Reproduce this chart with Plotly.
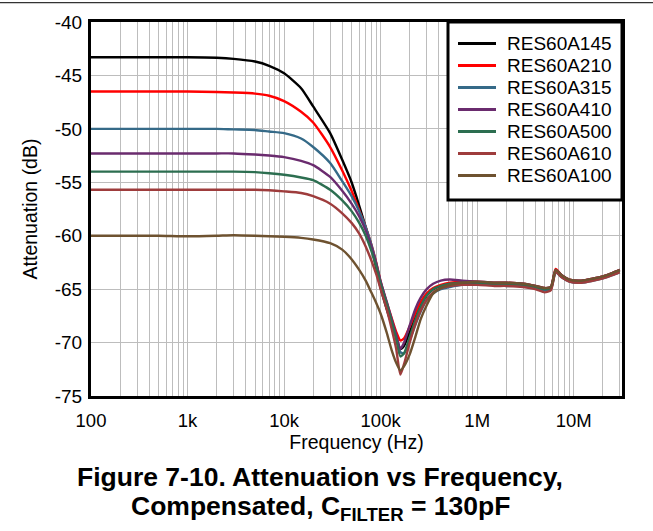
import plotly.graph_objects as go

freq_hz = [100, 200, 500, 1000, 2000, 3000, 5000, 7000, 10000, 15000, 20000, 30000,
           40000, 50000, 60000, 70000, 80000, 90000, 100000, 115000, 130000, 145000,
           160000, 175000, 200000, 230000, 260000, 300000, 350000, 420000, 520000,
           700000, 1000000, 1500000, 2000000, 3000000, 4000000, 5000000, 5800000,
           6500000, 7500000, 9000000, 12000000, 16000000, 20000000, 25000000, 30000000]

res60a145 = [-43.3, -43.3, -43.3, -43.3, -43.35, -43.45, -43.7, -44.1, -44.8, -46.2, -47.9, -50.4,
             -52.9, -55.0, -57.2, -59.2, -61.0, -63.0, -64.9, -66.8, -68.3, -69.5,
             -70.6, -70.3, -69.0, -67.6, -66.5, -65.6, -65.0, -64.7, -64.5,
             -64.4, -64.4, -64.5, -64.5, -64.6, -64.8, -65.0, -64.9,
             -63.3, -63.8, -64.2, -64.3, -64.1, -63.9, -63.6, -63.3]
res60a210 = [-46.5, -46.5, -46.5, -46.5, -46.55, -46.6, -46.7, -46.9, -47.4, -48.4, -49.4, -51.7,
             -53.9, -55.8, -57.6, -59.2, -60.8, -62.5, -64.3, -66.2, -67.7, -69.0,
             -69.8, -69.6, -68.5, -67.2, -66.2, -65.4, -64.9, -64.6, -64.4,
             -64.3, -64.3, -64.4, -64.4, -64.5, -64.7, -64.9, -64.8,
             -63.1, -63.7, -64.1, -64.2, -64.0, -63.8, -63.5, -63.2]
res60a315 = [-50.0, -50.0, -50.0, -50.0, -50.0, -50.05, -50.1, -50.25, -50.4, -50.9, -51.7, -53.2,
             -54.9, -56.3, -57.7, -59.2, -60.8, -62.6, -64.4, -66.3, -68.0, -69.5,
             -70.9, -71.0, -69.8, -68.3, -67.1, -66.0, -65.4, -65.0, -64.8,
             -64.6, -64.6, -64.6, -64.7, -64.7, -64.9, -65.1, -65.0,
             -63.4, -63.9, -64.3, -64.4, -64.2, -64.0, -63.7, -63.4]
res60a410 = [-52.3, -52.3, -52.3, -52.3, -52.3, -52.3, -52.4, -52.5, -52.65, -53.0, -53.4, -54.5,
             -55.8, -57.0, -58.2, -59.5, -61.0, -62.6, -64.3, -66.1, -67.8, -69.3,
             -70.6, -70.0, -68.4, -66.8, -65.8, -65.0, -64.5, -64.2, -64.1,
             -64.2, -64.3, -64.4, -64.4, -64.5, -64.7, -64.9, -64.8,
             -63.2, -63.7, -64.1, -64.2, -64.0, -63.8, -63.5, -63.2]
res60a500 = [-54.0, -54.0, -54.0, -54.0, -54.0, -54.0, -54.05, -54.15, -54.3, -54.55, -54.8, -55.7,
             -56.7, -57.7, -58.8, -60.0, -61.4, -62.9, -64.5, -66.3, -68.0, -69.7,
             -71.3, -71.0, -69.5, -67.8, -66.6, -65.6, -65.0, -64.7, -64.5,
             -64.4, -64.4, -64.5, -64.5, -64.6, -64.8, -65.0, -64.9,
             -63.3, -63.8, -64.2, -64.3, -64.1, -63.9, -63.6, -63.3]
res60a610 = [-55.7, -55.7, -55.7, -55.7, -55.7, -55.7, -55.7, -55.75, -55.85, -56.0, -56.3, -57.0,
             -57.9, -58.8, -59.8, -61.0, -62.3, -63.6, -65.0, -66.8, -68.7, -70.6,
             -73.0, -72.0, -70.0, -68.2, -67.0, -66.0, -65.3, -64.9, -64.7,
             -64.6, -64.6, -64.7, -64.7, -64.8, -65.0, -65.3, -65.1,
             -63.4, -63.9, -64.3, -64.4, -64.2, -64.0, -63.7, -63.4]
res60a100 = [-60.0, -60.0, -60.0, -60.05, -60.0, -59.95, -60.0, -60.05, -60.1, -60.2, -60.35, -60.7,
             -61.3, -62.2, -63.2, -64.2, -65.3, -66.3, -67.3, -69.0, -70.7, -71.9,
             -72.6, -72.2, -71.1, -69.4, -67.8, -66.5, -65.4, -64.9, -64.6,
             -64.4, -64.3, -64.4, -64.4, -64.5, -64.7, -64.9, -64.8,
             -63.2, -63.7, -64.1, -64.2, -64.0, -63.8, -63.5, -63.2]

series_names = ["RES60A145", "RES60A210", "RES60A315", "RES60A410",
                "RES60A500", "RES60A610", "RES60A100"]
series_values = [res60a145, res60a210, res60a315, res60a410, res60a500, res60a610, res60a100]
series_colors = ["#000000", "#ff0000", "#356a88", "#6a2b6e", "#2c6e50", "#9e3c3c", "#6e5230"]

x_tick_vals = [100, 1000, 10000, 100000, 1000000, 10000000]
x_tick_text = ["100", "1k", "10k", "100k", "1M", "10M"]
y_tick_vals = [-75, -70, -65, -60, -55, -50, -45, -40]
y_tick_text = ["-75", "-70", "-65", "-60", "-55", "-50", "-45", "-40"]

FONT = "Arial, 'Liberation Sans', sans-serif"
GRID = "#bdbdbd"

# plot-area geometry in pixels (for converting legend layout to paper coords)
W, H = 653, 531
L, R, T, B = 91, 31, 22, 135
PW, PH = W - L - R, H - T - B


def px_x(px):
    return (px - L) / PW


def px_y(py):
    return (H - B - py) / PH


fig = go.Figure()
for name, vals, col in zip(series_names, series_values, series_colors):
    fig.add_trace(go.Scatter(x=freq_hz, y=vals, mode="lines", name=name, showlegend=False,
                             line=dict(color=col, width=2.4, shape="spline", smoothing=0.6)))

shapes = [
    dict(type="line", xref="paper", yref="paper", x0=px_x(0), x1=px_x(W),
         y0=px_y(2.7), y1=px_y(2.7), line=dict(color="#333333", width=1.2)),
    dict(type="rect", xref="paper", yref="paper", x0=px_x(448), x1=px_x(622),
         y0=px_y(200), y1=px_y(22), fillcolor="white", line=dict(color="black", width=3),
         layer="above"),
]
annotations = []
for i, (name, col) in enumerate(zip(series_names, series_colors)):
    yy = px_y(43.5 + 22 * i)
    shapes.append(dict(type="line", xref="paper", yref="paper", x0=px_x(458), x1=px_x(496),
                       y0=yy, y1=yy, line=dict(color=col, width=3), layer="above"))
    annotations.append(dict(text=name, xref="paper", yref="paper", x=px_x(505), y=yy,
                            xanchor="left", yanchor="middle", showarrow=False,
                            font=dict(size=19, family=FONT, color="black")))

annotations += [
    dict(text="<b>Figure 7-10. Attenuation vs Frequency,</b>", xref="paper", yref="paper",
         x=px_x(320), y=px_y(477), xanchor="center", yanchor="middle", showarrow=False,
         font=dict(size=26.5, family=FONT)),
    dict(text="<b>Compensated, C<sub>FILTER</sub> = 130pF</b>", xref="paper", yref="paper",
         x=px_x(320), y=px_y(508), xanchor="center", yanchor="middle", showarrow=False,
         font=dict(size=26.5, family=FONT)),
]

fig.update_layout(
    width=W, height=H,
    margin=dict(l=L, r=R, t=T, b=B),
    paper_bgcolor="white", plot_bgcolor="white",
    font=dict(family=FONT, size=18, color="black"),
    showlegend=False,
    xaxis=dict(type="log", range=[2, 7.5], tickvals=x_tick_vals, ticktext=x_tick_text,
               showgrid=True, gridcolor=GRID, gridwidth=1.3,
               minor=dict(dtick="D1", showgrid=True, gridcolor=GRID, gridwidth=1.3),
               showline=True, linecolor="black", linewidth=3, mirror=True,
               ticks="", tickfont=dict(size=18.5), zeroline=False, ticklabelstandoff=6,
               title=dict(text="Frequency (Hz)", font=dict(size=19.5), standoff=0)),
    yaxis=dict(range=[-75, -40], tickvals=y_tick_vals, ticktext=y_tick_text,
               showgrid=True, gridcolor=GRID, gridwidth=1.3,
               showline=True, linecolor="black", linewidth=3, mirror=True,
               ticks="", tickfont=dict(size=19), zeroline=False, ticklabelstandoff=2,
               title=dict(text="Attenuation (dB)", font=dict(size=19.5), standoff=12)),
    shapes=shapes,
    annotations=annotations,
)

fig.write_html("out.html", config={"displayModeBar": False},
               post_script="document.body.style.margin='0';")
